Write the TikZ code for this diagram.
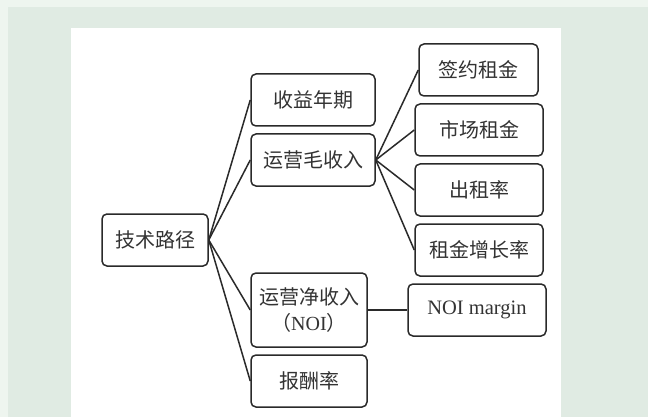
\documentclass[tikz,border=0pt]{standalone}
\usepackage{fontspec}
\setmainfont{Liberation Serif}
\newfontfamily\cjk{Noto Sans CJK SC}
\definecolor{bgouter}{HTML}{EEF5EF}
\definecolor{bginner}{HTML}{E0EBE3}
\definecolor{ink}{HTML}{2A2A2A}
\definecolor{txt}{HTML}{333333}
\begin{document}
\begin{tikzpicture}[x=1pt,y=-1pt,
  box/.style={draw=ink,line width=1.5pt,rounded corners=5pt,fill=white,
    inner sep=0pt,align=center,text=txt,font=\fontsize{20}{26}\selectfont\cjk},
  link/.style={draw=ink,line width=1.5pt}]
\fill[bgouter] (0,0) rectangle (648,417);
\useasboundingbox (0,0) rectangle (648,417);
\fill[bginner] (8,7) rectangle (648,417);
\fill[white] (71,28) rectangle (561,417);

\node[box,minimum width=106pt,minimum height=52pt] (root) at (155,240) {技术路径};
\node[box,minimum width=124pt,minimum height=52pt] (a) at (313,100) {收益年期};
\node[box,minimum width=124pt,minimum height=52pt] (b) at (313,160) {运营毛收入};
\node[box,minimum width=116pt,minimum height=74pt] (c) at (309,310) {运营净收入\\（{\rmfamily NOI}）};
\node[box,minimum width=116pt,minimum height=52pt] (d) at (309,381) {报酬率};
\node[box,minimum width=119pt,minimum height=52pt] (e1) at (478.5,70) {签约租金};
\node[box,minimum width=128pt,minimum height=52pt] (e2) at (479,130) {市场租金};
\node[box,minimum width=128pt,minimum height=52pt] (e3) at (479,190) {出租率};
\node[box,minimum width=128pt,minimum height=52pt] (e4) at (479,250) {租金增长率};
\node[box,minimum width=138pt,minimum height=52pt,font=\fontsize{20.5}{26}\selectfont\rmfamily] (f) at (477,310) {NOI margin};

\foreach \t in {a,b,c,d} \draw[link] (root.east) -- (\t.west);
\foreach \t in {e1,e2,e3,e4} \draw[link] (b.east) -- (\t.west);
\draw[link] (c.east) -- (f.west);
\end{tikzpicture}
\end{document}
